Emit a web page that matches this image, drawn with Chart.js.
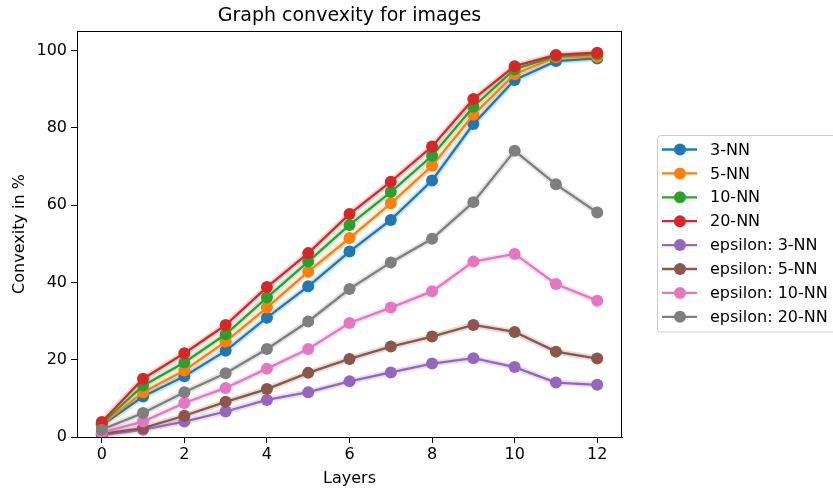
<!DOCTYPE html>
<html>
<head>
<meta charset="utf-8">
<script src="https://cdn.jsdelivr.net/npm/chart.js@4"></script>
<style>
  html, body { margin: 0; padding: 0; background: #fff; }
</style>
</head>
<body>
<canvas id="chart" width="833" height="492"></canvas>
<script>
// data
const layers = [0, 1, 2, 3, 4, 5, 6, 7, 8, 9, 10, 11, 12];
const knn3  = [3.0, 10.5, 15.7, 22.3, 30.9, 39.0, 48.0, 56.2, 66.4, 81.0, 92.4, 97.3, 98.0];
const knn5  = [3.2, 11.6, 17.2, 24.7, 33.5, 42.8, 51.5, 60.5, 70.2, 83.4, 93.9, 98.3, 98.4];
const knn10 = [3.5, 13.3, 19.3, 26.6, 36.1, 45.4, 54.9, 63.4, 72.8, 85.5, 95.2, 98.6, 99.1];
const knn20 = [3.9, 15.1, 21.7, 29.0, 38.8, 47.6, 57.7, 66.1, 75.2, 87.5, 96.0, 98.9, 99.5];
const eps3  = [0.5, 1.9, 4.0, 6.6, 9.6, 11.6, 14.4, 16.7, 19.0, 20.4, 18.1, 14.1, 13.5];
const eps5  = [0.8, 2.3, 5.5, 9.1, 12.4, 16.6, 20.2, 23.4, 26.0, 29.0, 27.2, 22.1, 20.3];
const eps10 = [1.2, 4.0, 8.8, 12.7, 17.7, 22.8, 29.5, 33.5, 37.7, 45.4, 47.4, 39.6, 35.3];
const eps20 = [1.9, 6.2, 11.6, 16.5, 22.8, 29.9, 38.3, 45.2, 51.3, 60.8, 74.1, 65.4, 58.1];

const seriesNames = ['3-NN', '5-NN', '10-NN', '20-NN',
  'epsilon: 3-NN', 'epsilon: 5-NN', 'epsilon: 10-NN', 'epsilon: 20-NN'];
const seriesValues = [knn3, knn5, knn10, knn20, eps3, eps5, eps10, eps20];
const xTicks = [0, 2, 4, 6, 8, 10, 12];
const yTicks = [0, 20, 40, 60, 80, 100];

const colors = ['#1f77b4', '#ff7f0e', '#2ca02c', '#d62728',
  '#9467bd', '#8c564b', '#e377c2', '#7f7f7f'];
const FONT = "'DejaVu Sans', sans-serif";

function hexAlpha(hex, a) {
  const n = parseInt(hex.slice(1), 16);
  return `rgba(${n >> 16}, ${(n >> 8) & 255}, ${n & 255}, ${a})`;
}

const datasets = [];
// faint band under every line
seriesValues.forEach((vals, i) => {
  datasets.push({
    label: '_band' + i,
    data: layers.map((x, j) => ({ x: x, y: vals[j] })),
    borderColor: hexAlpha(colors[i], 0.22),
    borderWidth: 6,
    pointRadius: 0,
    order: 50
  });
});
seriesValues.forEach((vals, i) => {
  datasets.push({
    label: seriesNames[i],
    data: layers.map((x, j) => ({ x: x, y: vals[j] })),
    borderColor: colors[i],
    backgroundColor: colors[i],
    borderWidth: 2.3,
    pointRadius: 6,
    pointBorderWidth: 0,
    pointBackgroundColor: colors[i],
    order: 10 - i
  });
});

// title, axis titles, frame and legend
const decorPlugin = {
  id: 'decor',
  afterDraw(chart) {
    const ctx = chart.ctx;
    const a = chart.chartArea;
    const cx = (a.left + a.right) / 2;
    ctx.save();
    ctx.strokeStyle = '#000';
    ctx.lineWidth = 1;
    ctx.strokeRect(Math.round(a.left) + 0.5, Math.round(a.top) + 0.5,
      Math.round(a.right - a.left) - 1, Math.round(a.bottom - a.top));

    ctx.fillStyle = '#000';
    ctx.textAlign = 'center';
    ctx.textBaseline = 'middle';
    ctx.font = '19px ' + FONT;
    ctx.fillText('Graph convexity for images', cx, 16);
    ctx.font = '16px ' + FONT;
    ctx.fillText('Layers', cx, 479);
    ctx.save();
    ctx.translate(20, (a.top + a.bottom) / 2);
    ctx.rotate(-Math.PI / 2);
    ctx.fillText('Convexity in %', 0, 0);
    ctx.restore();

    // legend
    const lx = 657.5, ly = 135.5;
    ctx.strokeStyle = '#cccccc';
    ctx.fillStyle = 'rgba(255,255,255,0.8)';
    ctx.beginPath();
    ctx.roundRect(lx, ly, 200, 196.5, 3);
    ctx.fill();
    ctx.stroke();
    ctx.textAlign = 'left';
    ctx.font = '16px ' + FONT;
    seriesNames.forEach((name, i) => {
      const y = 149.5 + i * 23.9;
      ctx.strokeStyle = colors[i];
      ctx.lineWidth = 2.3;
      ctx.beginPath();
      ctx.moveTo(662, y);
      ctx.lineTo(697, y);
      ctx.stroke();
      ctx.fillStyle = colors[i];
      ctx.beginPath();
      ctx.arc(680, y, 6, 0, Math.PI * 2);
      ctx.fill();
      ctx.fillStyle = '#000';
      ctx.fillText(name, 710, y + 1);
    });
    ctx.restore();
  }
};

new Chart(document.getElementById('chart'), {
  type: 'line',
  data: { datasets: datasets },
  options: {
    responsive: false,
    animation: false,
    layout: { padding: { top: 31, right: 211, left: 0, bottom: 0 } },
    plugins: {
      legend: { display: false },
      title: { display: false },
      tooltip: { enabled: false }
    },
    scales: {
      x: {
        type: 'linear',
        min: -0.6,
        max: 12.6,
        afterBuildTicks: s => { s.ticks = xTicks.map(v => ({ value: v })); },
        afterFit: s => { s.height = 55; },
        grid: { drawOnChartArea: false, drawTicks: true, tickLength: 6, color: '#000' },
        border: { display: true, color: '#000', width: 1 },
        ticks: { color: '#000', font: { family: FONT, size: 16 }, padding: 2, maxRotation: 0 }
      },
      y: {
        type: 'linear',
        min: 0,
        max: 105.1,
        afterBuildTicks: s => { s.ticks = yTicks.map(v => ({ value: v })); },
        afterFit: s => { s.width = 77; },
        grid: { drawOnChartArea: false, drawTicks: true, tickLength: 6, color: '#000' },
        border: { display: true, color: '#000', width: 1 },
        ticks: { color: '#000', font: { family: FONT, size: 16 }, padding: 4 }
      }
    }
  },
  plugins: [decorPlugin]
});
</script>
</body>
</html>
